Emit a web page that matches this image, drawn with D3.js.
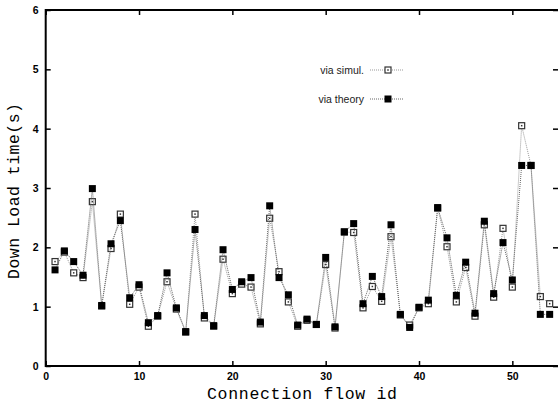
<!DOCTYPE html>
<style>
    body { margin: 0; background: #fff; }
    .tick text { font-family: "Liberation Sans", Arial, sans-serif; font-weight: bold; font-size: 10.5px; }
    .axis .domain { display: none; }
</style>
<svg width="558" height="406"></svg>
<script src="https://d3js.org/d3.v7.min.js"></script>
<script>

    // connection flow ids 1..54
    var flowIds = d3.range(1, 55);

    var viaSimul = [1.76, 1.92, 1.57, 1.49, 2.77, 1.01, 1.98, 2.56, 1.04, 1.33,
                    0.67, 0.84, 1.42, 0.96, 0.57, 2.56, 0.81, 0.67, 1.80, 1.22,
                    1.38, 1.33, 0.71, 2.49, 1.59, 1.08, 0.67, 0.77, 0.70, 1.71,
                    0.64, 2.26, 2.25, 0.98, 1.34, 1.09, 2.18, 0.86, 0.69, 0.98,
                    1.05, 2.66, 2.01, 1.08, 1.66, 0.84, 2.38, 1.16, 2.32, 1.33,
                    4.05, 3.38, 1.17, 1.05];

    var viaTheory = [1.62, 1.94, 1.76, 1.53, 2.99, 1.02, 2.06, 2.45, 1.15, 1.37,
                     0.73, 0.85, 1.57, 0.98, 0.58, 2.30, 0.85, 0.68, 1.96, 1.29,
                     1.42, 1.49, 0.74, 2.70, 1.49, 1.20, 0.69, 0.79, 0.70, 1.83,
                     0.66, 2.26, 2.40, 1.05, 1.51, 1.17, 2.38, 0.87, 0.65, 0.99,
                     1.11, 2.67, 2.16, 1.19, 1.75, 0.89, 2.44, 1.22, 2.08, 1.45,
                     3.38, 3.38, 0.87, 0.87];

    var xTicks = [0, 10, 20, 30, 40, 50],
        yTicks = [0, 1, 2, 3, 4, 5, 6];

    var svg = d3.select("svg"),
        margin = {top: 10, left: 45.7, bottom: 366, right: 559};

    var x = d3.scaleLinear()
        .domain([0, 55])
        .range([margin.left, margin.right]);

    var y = d3.scaleLinear()
        .domain([0, 6])
        .range([margin.bottom, margin.top]);

    // axes, ticks pointing inwards on all four sides
    svg.append("g")
        .attr("class", "axis")
        .attr("transform", "translate(0," + margin.bottom + ")")
        .call(d3.axisBottom(x).tickValues(xTicks).tickFormat(d3.format("d"))
            .tickSizeInner(-5).tickSizeOuter(0).tickPadding(7));

    svg.append("g")
        .attr("class", "axis")
        .attr("transform", "translate(0," + margin.top + ")")
        .call(d3.axisTop(x).tickValues(xTicks).tickSizeInner(-5).tickSizeOuter(0).tickFormat(""));

    svg.append("g")
        .attr("class", "axis")
        .attr("transform", "translate(" + margin.left + ",0)")
        .call(d3.axisLeft(y).tickValues(yTicks).tickFormat(d3.format("d"))
            .tickSizeInner(-5).tickSizeOuter(0).tickPadding(7));

    svg.append("g")
        .attr("class", "axis")
        .attr("transform", "translate(" + margin.right + ",0)")
        .call(d3.axisRight(y).tickValues(yTicks).tickSizeInner(-6).tickSizeOuter(0).tickFormat(""));

    svg.selectAll(".tick line").attr("stroke", "#000").attr("stroke-width", 1.5);
    svg.selectAll(".tick text").attr("fill", "#000");

    // frame
    svg.append("rect")
        .attr("x", margin.left)
        .attr("y", margin.top)
        .attr("width", margin.right - margin.left)
        .attr("height", margin.bottom - margin.top)
        .attr("fill", "none")
        .attr("stroke", "#000")
        .attr("stroke-width", 2);

    // axis titles
    svg.append("text")
        .attr("x", 302)
        .attr("y", 399)
        .attr("text-anchor", "middle")
        .attr("font-family", "'Courier New', 'Liberation Mono', monospace")
        .attr("font-size", 16.5)
        .attr("textLength", 190)
        .text("Connection flow id");

    svg.append("text")
        .attr("transform", "translate(19,191) rotate(-90)")
        .attr("text-anchor", "middle")
        .attr("font-family", "'Courier New', 'Liberation Mono', monospace")
        .attr("font-size", 16.5)
        .attr("textLength", 176)
        .text("Down Load time(s)");

    var line = d3.line()
        .x(function(d, i) { return x(flowIds[i]); })
        .y(function(d) { return y(d); });

    function drawSimulMarker(g, cx, cy) {
        g.append("rect")
            .attr("x", cx - 3).attr("y", cy - 3)
            .attr("width", 6).attr("height", 6)
            .attr("fill", "#fff")
            .attr("stroke", "#333")
            .attr("stroke-width", 1.2);
        g.append("rect")
            .attr("x", cx - 0.75).attr("y", cy - 0.75)
            .attr("width", 1.5).attr("height", 1.5)
            .attr("fill", "#333");
    }

    function drawTheoryMarker(g, cx, cy) {
        g.append("rect")
            .attr("x", cx - 3.5).attr("y", cy - 3.5)
            .attr("width", 7).attr("height", 7)
            .attr("fill", "#000");
    }

    // via simul.
    svg.append("path")
        .datum(viaSimul)
        .attr("fill", "none")
        .attr("stroke", "#999")
        .attr("stroke-width", 1)
        .attr("stroke-dasharray", "1,1")
        .attr("d", line);

    var gs = svg.append("g");
    viaSimul.forEach(function(d, i) { drawSimulMarker(gs, x(flowIds[i]), y(d)); });

    // via theory
    svg.append("path")
        .datum(viaTheory)
        .attr("fill", "none")
        .attr("stroke", "#666")
        .attr("stroke-width", 1)
        .attr("stroke-dasharray", "1,1")
        .attr("d", line);

    var gt = svg.append("g");
    viaTheory.forEach(function(d, i) { drawTheoryMarker(gt, x(flowIds[i]), y(d)); });

    // legend
    var legend = [
        {label: "via simul.", y: 70, stroke: "#999", marker: drawSimulMarker},
        {label: "via theory", y: 99, stroke: "#666", marker: drawTheoryMarker}
    ];

    legend.forEach(function(l) {
        svg.append("text")
            .attr("x", 364)
            .attr("y", l.y + 4)
            .attr("text-anchor", "end")
            .attr("font-family", "'Liberation Sans', Arial, sans-serif")
            .attr("font-size", 10.5)
            .attr("fill", "#222")
            .text(l.label);
        svg.append("line")
            .attr("x1", 370).attr("x2", 404)
            .attr("y1", l.y).attr("y2", l.y)
            .attr("stroke", l.stroke)
            .attr("stroke-dasharray", "1,1");
        var g = svg.append("g");
        l.marker(g, 388, l.y);
    });

</script>
